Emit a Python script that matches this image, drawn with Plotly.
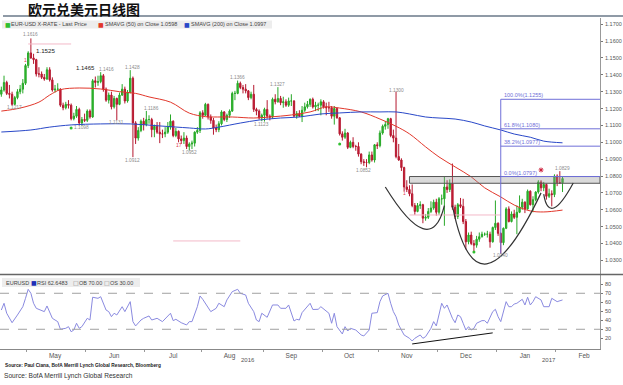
import plotly.graph_objects as go
import pandas as pd

W, H = 623, 385

# ---------------- daily OHLC, EUR-USD ----------------
opens = [
    1.1285, 1.1310, 1.1355, 1.1290, 1.1285, 1.1225, 1.1265, 1.1300, 1.1315, 1.1350,
    1.1455, 1.1530, 1.1500, 1.1490, 1.1405, 1.1405, 1.1385, 1.1375, 1.1430, 1.1370, 1.1310, 1.1315, 1.1315, 1.1220, 1.1205, 1.1225, 1.1220, 1.1140, 1.1155, 1.1195, 1.1115, 1.1135,
    1.1130, 1.1185, 1.1150, 1.1365, 1.1355, 1.1360, 1.1395, 1.1315, 1.1250, 1.1280, 1.1210, 1.1260, 1.1225, 1.1280, 1.1315, 1.1245, 1.1295, 1.1380, 1.1115, 1.1025, 1.1070, 1.1125,
    1.1105, 1.1135, 1.1135, 1.1075, 1.1095, 1.1060, 1.1050, 1.1050, 1.1060, 1.1090, 1.1125, 1.1040, 1.1065, 1.1020, 1.1010, 1.1025, 1.0975, 1.0990, 1.0995, 1.1060, 1.1070,
    1.1175, 1.1160, 1.1225, 1.1150, 1.1130, 1.1085, 1.1075, 1.1110, 1.1180, 1.1135, 1.1160, 1.1185, 1.1290, 1.1290, 1.1350, 1.1325, 1.1315, 1.1305, 1.1265, 1.1285, 1.1195, 1.1185, 1.1145,
    1.1160, 1.1195, 1.1155, 1.1150, 1.1255, 1.1240, 1.1260, 1.1235, 1.1240, 1.1220, 1.1245, 1.1245, 1.1155, 1.1170, 1.1155, 1.1190, 1.1210, 1.1225, 1.1255, 1.1210, 1.1220, 1.1220,
    1.1240, 1.1210, 1.1205, 1.1205, 1.1155, 1.1200, 1.1145, 1.1050, 1.1030, 1.1055, 1.0970, 1.1000, 1.0975, 1.0975, 1.0930, 1.0885, 1.0880, 1.0880, 1.0925, 1.0895, 1.0985,
    1.0980, 1.1055, 1.1095, 1.1105, 1.1140, 1.1040, 1.1025, 1.0915, 1.0895, 1.0850, 1.0735, 1.0720, 1.0695, 1.0625, 1.0590, 1.0625, 1.0630, 1.0550, 1.0555, 1.0590, 1.0610, 1.0645,
    1.0585, 1.0665, 1.0665, 1.0735, 1.0720, 1.0755, 1.0615, 1.0560, 1.0630, 1.0620, 1.0530, 1.0410, 1.0450, 1.0400, 1.0390, 1.0425, 1.0440, 1.0455, 1.0455, 1.0455, 1.0410, 1.0495,
    1.0520, 1.0460, 1.0405, 1.0490, 1.0605, 1.0530, 1.0575, 1.0555, 1.0585, 1.0615, 1.0645, 1.0605, 1.0710, 1.0630, 1.0660, 1.0705, 1.0765, 1.0730, 1.0750, 1.0680, 1.0695, 1.0690,
    1.0800, 1.0760, 1.0760,
]
highs = [
    1.1330, 1.1395, 1.1365, 1.1340, 1.1300, 1.1275, 1.1315, 1.1340, 1.1375, 1.1465,
    1.1540, 1.1616, 1.1525, 1.1495, 1.1445, 1.1420, 1.1405, 1.1445, 1.1445, 1.1385, 1.1340, 1.1350, 1.1320, 1.1235, 1.1240, 1.1250, 1.1230, 1.1175, 1.1215, 1.1205, 1.1150, 1.1170,
    1.1195, 1.1195, 1.1375, 1.1390, 1.1395, 1.1416, 1.1405, 1.1325, 1.1295, 1.1300, 1.1275, 1.1265, 1.1295, 1.1345, 1.1330, 1.1310, 1.1428, 1.1390, 1.1125, 1.1090, 1.1135, 1.1145,
    1.1186, 1.1160, 1.1145, 1.1105, 1.1120, 1.1120, 1.1075, 1.1090, 1.1120, 1.1165, 1.1130, 1.1085, 1.1070, 1.1040, 1.1060, 1.1040, 1.1000, 1.1010, 1.1065, 1.1090, 1.1185,
    1.1190, 1.1234, 1.1230, 1.1165, 1.1145, 1.1105, 1.1125, 1.1190, 1.1185, 1.1170, 1.1195, 1.1300, 1.1305, 1.1366, 1.1360, 1.1340, 1.1345, 1.1310, 1.1300, 1.1340, 1.1205, 1.1195, 1.1170,
    1.1205, 1.1250, 1.1165, 1.1265, 1.1285, 1.1327, 1.1275, 1.1270, 1.1255, 1.1265, 1.1285, 1.1250, 1.1185, 1.1190, 1.1215, 1.1235, 1.1245, 1.1260, 1.1265, 1.1240, 1.1235, 1.1255,
    1.1250, 1.1235, 1.1240, 1.1215, 1.1215, 1.1205, 1.1150, 1.1065, 1.1080, 1.1060, 1.1010, 1.1030, 1.0985, 1.1000, 1.0935, 1.0900, 1.0900, 1.0945, 1.0945, 1.0990, 1.1000,
    1.1070, 1.1105, 1.1125, 1.1145, 1.1145, 1.1075, 1.1300, 1.0990, 1.0905, 1.0855, 1.0775, 1.0745, 1.0750, 1.0640, 1.0640, 1.0650, 1.0635, 1.0575, 1.0610, 1.0650, 1.0660, 1.0665,
    1.0675, 1.0690, 1.0795, 1.0775, 1.0780, 1.0874, 1.0630, 1.0640, 1.0670, 1.0665, 1.0545, 1.0465, 1.0470, 1.0420, 1.0445, 1.0465, 1.0470, 1.0465, 1.0475, 1.0470, 1.0500, 1.0655,
    1.0525, 1.0465, 1.0495, 1.0615, 1.0620, 1.0590, 1.0600, 1.0625, 1.0685, 1.0665, 1.0650, 1.0720, 1.0715, 1.0680, 1.0710, 1.0775, 1.0775, 1.0765, 1.0755, 1.0725, 1.0715, 1.0810,
    1.0810, 1.0829, 1.0800,
]
lows = [
    1.1270, 1.1300, 1.1280, 1.1260, 1.1217, 1.1220, 1.1255, 1.1285, 1.1290, 1.1340,
    1.1440, 1.1495, 1.1465, 1.1390, 1.1385, 1.1375, 1.1365, 1.1370, 1.1360, 1.1300, 1.1295, 1.1305, 1.1210, 1.1190, 1.1195, 1.1200, 1.1130, 1.1130, 1.1145, 1.1100, 1.1098, 1.1120,
    1.1120, 1.1140, 1.1145, 1.1325, 1.1335, 1.1350, 1.1300, 1.1240, 1.1230, 1.1195, 1.1200, 1.1131, 1.1220, 1.1275, 1.1230, 1.1235, 1.1290, 1.0912, 1.0990, 1.1010, 1.1060, 1.1070,
    1.1095, 1.1110, 1.1030, 1.1030, 1.1050, 1.0995, 1.1025, 1.1030, 1.1050, 1.1075, 1.1030, 1.1030, 1.1000, 1.0990, 1.0990, 1.0960, 1.0952, 1.0960, 1.0975, 1.1050, 1.1055,
    1.1140, 1.1155, 1.1135, 1.1110, 1.1045, 1.1060, 1.1060, 1.1100, 1.1125, 1.1120, 1.1145, 1.1180, 1.1250, 1.1285, 1.1315, 1.1290, 1.1290, 1.1250, 1.1255, 1.1180, 1.1160, 1.1135, 1.1125,
    1.1123, 1.1140, 1.1130, 1.1140, 1.1225, 1.1235, 1.1220, 1.1205, 1.1210, 1.1210, 1.1215, 1.1150, 1.1140, 1.1150, 1.1120, 1.1180, 1.1200, 1.1210, 1.1200, 1.1185, 1.1185, 1.1160,
    1.1200, 1.1160, 1.1180, 1.1140, 1.1105, 1.1140, 1.1040, 1.1010, 1.1020, 1.0960, 1.0965, 1.0965, 1.0950, 1.0915, 1.0870, 1.0860, 1.0852, 1.0870, 1.0885, 1.0880, 1.0960,
    1.0970, 1.1045, 1.1075, 1.1080, 1.1030, 1.1000, 1.0905, 1.0890, 1.0830, 1.0710, 1.0705, 1.0680, 1.0615, 1.0570, 1.0585, 1.0605, 1.0520, 1.0535, 1.0545, 1.0580, 1.0600, 1.0565,
    1.0570, 1.0630, 1.0505, 1.0700, 1.0705, 1.0600, 1.0545, 1.0545, 1.0610, 1.0515, 1.0365, 1.0395, 1.0390, 1.0352, 1.0375, 1.0410, 1.0435, 1.0445, 1.0435, 1.0375, 1.0405, 1.0480,
    1.0445, 1.0340, 1.0390, 1.0485, 1.0525, 1.0525, 1.0545, 1.0455, 1.0580, 1.0600, 1.0580, 1.0600, 1.0625, 1.0585, 1.0650, 1.0695, 1.0710, 1.0710, 1.0660, 1.0670, 1.0620, 1.0675,
    1.0740, 1.0755, 1.0705,
]
closes = [
    1.1310, 1.1355, 1.1290, 1.1285, 1.1225, 1.1265, 1.1300, 1.1315, 1.1350, 1.1455,
    1.1530, 1.1500, 1.1490, 1.1405, 1.1405, 1.1385, 1.1375, 1.1430, 1.1370, 1.1310, 1.1315, 1.1315, 1.1220, 1.1205, 1.1225, 1.1220, 1.1140, 1.1155, 1.1195, 1.1115, 1.1135, 1.1130,
    1.1185, 1.1150, 1.1365, 1.1355, 1.1360, 1.1395, 1.1315, 1.1250, 1.1280, 1.1210, 1.1260, 1.1225, 1.1280, 1.1315, 1.1245, 1.1295, 1.1380, 1.1115, 1.1025, 1.1070, 1.1125, 1.1105,
    1.1135, 1.1135, 1.1075, 1.1095, 1.1060, 1.1050, 1.1050, 1.1060, 1.1090, 1.1125, 1.1040, 1.1065, 1.1020, 1.1010, 1.1025, 1.0975, 1.0990, 1.0995, 1.1060, 1.1070, 1.1175,
    1.1160, 1.1225, 1.1150, 1.1130, 1.1085, 1.1075, 1.1110, 1.1180, 1.1135, 1.1160, 1.1185, 1.1290, 1.1290, 1.1350, 1.1325, 1.1315, 1.1305, 1.1265, 1.1285, 1.1195, 1.1185, 1.1145, 1.1160,
    1.1195, 1.1155, 1.1150, 1.1255, 1.1240, 1.1260, 1.1235, 1.1240, 1.1220, 1.1245, 1.1245, 1.1155, 1.1170, 1.1155, 1.1190, 1.1210, 1.1225, 1.1255, 1.1210, 1.1220, 1.1220, 1.1240,
    1.1210, 1.1205, 1.1205, 1.1155, 1.1200, 1.1145, 1.1050, 1.1030, 1.1055, 1.0970, 1.1000, 1.0975, 1.0975, 1.0930, 1.0885, 1.0880, 1.0880, 1.0925, 1.0895, 1.0985, 1.0980,
    1.1055, 1.1095, 1.1105, 1.1140, 1.1040, 1.1025, 1.0915, 1.0895, 1.0850, 1.0735, 1.0720, 1.0695, 1.0625, 1.0590, 1.0625, 1.0630, 1.0550, 1.0555, 1.0590, 1.0610, 1.0645, 1.0585,
    1.0665, 1.0665, 1.0735, 1.0720, 1.0755, 1.0615, 1.0560, 1.0630, 1.0620, 1.0530, 1.0410, 1.0450, 1.0400, 1.0390, 1.0425, 1.0440, 1.0455, 1.0455, 1.0455, 1.0410, 1.0495, 1.0520,
    1.0460, 1.0405, 1.0490, 1.0605, 1.0530, 1.0575, 1.0555, 1.0585, 1.0615, 1.0645, 1.0605, 1.0710, 1.0630, 1.0660, 1.0705, 1.0765, 1.0730, 1.0750, 1.0680, 1.0695, 1.0690, 1.0800,
    1.0760, 1.0760, 1.0785,
]

# moving averages (trading-day number from 18 Apr 2016, value)
sma50_day = [0, 7, 14, 18, 22, 29, 37, 44, 50, 55, 63, 70, 76, 79, 86, 94, 100, 108, 115, 121, 126, 134,
             141, 147, 152, 158, 163, 169, 175, 180, 186, 191, 197, 202, 209]
sma50_val = [1.1185, 1.1203, 1.1238, 1.1280, 1.1312, 1.1322, 1.1316, 1.1300, 1.1290, 1.1269, 1.1238, 1.1173,
             1.1152, 1.1150, 1.1150, 1.1144, 1.1150, 1.1162, 1.1180, 1.1210, 1.1203, 1.1180, 1.1138, 1.1095,
             1.1050, 1.0973, 1.0913, 1.0854, 1.0795, 1.0730, 1.0676, 1.0628, 1.0593, 1.0587, 1.0598]
sma200_day = [0, 11, 18, 26, 37, 48, 59, 70, 76, 81, 89, 96, 104, 111, 119, 126, 134, 141, 147, 152, 158,
              163, 169, 175, 180, 186, 191, 197, 202, 209]
sma200_val = [1.1061, 1.1073, 1.1090, 1.1103, 1.1109, 1.1109, 1.1097, 1.1085, 1.1079, 1.1090, 1.1114, 1.1132,
              1.1144, 1.1150, 1.1168, 1.1174, 1.1180, 1.1180, 1.1180, 1.1168, 1.1150, 1.1144, 1.1138, 1.1120,
              1.1097, 1.1073, 1.1049, 1.1030, 1.1007, 1.0997]

# RSI (trading-day number, value)
rsi_day = [0, 1, 2, 4, 6, 8, 9, 10, 11, 12, 13, 15, 16, 17, 19, 20, 21, 22, 24, 25, 26, 27, 28, 29, 30, 32, 33,
           34, 36, 37, 39, 40, 41, 42, 43, 45, 46, 48, 49, 50, 52, 53, 55, 56, 58, 60, 63, 64, 65, 67, 69, 70,
           71, 73, 74, 75, 77, 78, 80, 81, 83, 84, 86, 88, 89, 91, 92, 94, 95, 96, 97, 99, 101, 103, 104, 106,
           107, 109, 110, 111, 112, 115, 116, 118, 119, 121, 122, 123, 124, 125, 127, 128, 129, 130, 132, 134,
           135, 137, 138, 140, 141, 142, 143, 144, 145, 146, 147, 148, 149, 150, 152, 153, 154, 156, 157, 158,
           160, 161, 162, 163, 164, 165, 166, 168, 169, 170, 171, 172, 173, 174, 175, 176, 177, 179, 180, 181,
           183, 184, 185, 186, 187, 188, 189, 190, 191, 192, 194, 195, 196, 197, 198, 199, 201, 202, 204, 205,
           207, 209]
rsi_val = [51.4, 58.9, 47.8, 37.3, 45.9, 55.1, 64.4, 74.4, 70.0, 58.9, 53.3, 51.4, 49.6, 55.9, 42.2, 40.3, 38.5,
           30.0, 31.1, 32.9, 27.3, 29.2, 36.7, 31.1, 32.9, 42.2, 40.3, 65.6, 64.4, 66.2, 51.4, 49.6, 44.0, 47.8,
           45.9, 55.1, 49.6, 60.7, 38.5, 33.7, 40.3, 42.2, 44.8, 40.3, 42.2, 38.5, 47.8, 39.6, 41.1, 37.3, 34.8,
           38.5, 38.5, 55.1, 67.0, 63.3, 53.3, 49.6, 53.3, 58.9, 55.1, 62.6, 71.8, 74.4, 70.0, 68.1, 58.9, 49.6,
           40.3, 38.5, 47.8, 43.3, 57.0, 57.0, 53.3, 53.3, 57.0, 39.2, 41.1, 40.3, 48.5, 58.9, 52.0, 52.2, 55.1,
           49.6, 47.8, 36.7, 47.8, 32.9, 24.8, 32.9, 28.1, 31.1, 29.2, 23.7, 22.6, 29.2, 47.8, 48.5, 60.7, 67.0,
           68.1, 70.0, 58.9, 49.6, 44.0, 34.8, 29.2, 23.7, 20.0, 17.0, 20.0, 23.7, 20.0, 21.8, 31.1, 38.5, 33.7,
           45.9, 58.9, 53.3, 57.0, 42.2, 37.3, 45.9, 44.0, 36.7, 29.2, 32.9, 29.2, 31.1, 36.7, 39.6, 39.6, 36.7,
           49.6, 52.2, 44.0, 38.5, 51.4, 60.7, 55.1, 55.1, 58.1, 58.9, 63.3, 57.0, 65.6, 57.0, 60.7, 66.2, 62.6,
           55.1, 55.1, 64.4, 60.7, 62.6]

# labels of highs / lows
lab_text = ["1.1616", "1.1217", "1.1098", "1.1416", "1.1131", "1.1428", "1.0912", "1.1186", "1.0952",
            "1.1366", "1.1123", "1.1327", "1.0852", "1.1300", "1.0340", "1.0829"]
lab_day = [11, 5, 30, 39, 43, 49, 49, 56, 70, 88, 97, 103, 135, 147, 186, 209]
lab_price = [1.1637, 1.1204, 1.1085, 1.1429, 1.1115, 1.1441, 1.0895, 1.1198, 1.0937, 1.1382, 1.1103,
             1.1340, 1.0830, 1.1310, 1.0326, 1.0842]

fib_text = ["100.0%(1.1255)", "61.8%(1.1080)", "38.2%(1.0977)", "0.0%(1.0797)"]
fib_level = [1.1255, 1.1080, 1.0977, 1.0797]
fib_low = 1.0340
band = [1.0757, 1.0797]

months = ["May", "Jun", "Jul", "Aug", "Sep", "Oct", "Nov", "Dec", "Jan", "Feb"]
month_mid = ["2016-05-16", "2016-06-15", "2016-07-15", "2016-08-15", "2016-09-15", "2016-10-14 12:00",
             "2016-11-15", "2016-12-15", "2017-01-16", "2017-02-15"]
month_edge = ["2016-04-29 12:00", "2016-05-31 12:00", "2016-06-30 12:00", "2016-07-29 12:00",
              "2016-08-31 12:00", "2016-09-30 12:00", "2016-10-31 12:00", "2016-11-30 12:00",
              "2016-12-30 12:00", "2017-01-31 12:00"]
price_ticks = [1.03, 1.04, 1.05, 1.06, 1.07, 1.08, 1.09, 1.10, 1.11, 1.12, 1.13, 1.14, 1.15, 1.16, 1.17]
rsi_ticks = [20, 30, 40, 50, 60, 70, 80]

n = min(len(opens), len(highs), len(lows), len(closes))
dates = pd.bdate_range("2016-04-18", periods=n)
XR = ["2016-04-15 12:00", "2017-02-22 23:00"]
RB = [dict(bounds=["sat", "mon"])]

GREEN, RED, BLUE = "#2FBF2F", "#CC1F3A", "#2948C8"
FIB = "#6F6FD8"
PINK = "#F3B9C8"
FONT = "Liberation Sans, Arial, sans-serif"

def d(i):
    return dates[i]

fig = go.Figure()
fig.add_trace(go.Candlestick(
    x=dates, open=opens[:n], high=highs[:n], low=lows[:n], close=closes[:n],
    increasing=dict(line=dict(color="#28A828", width=1), fillcolor=GREEN),
    decreasing=dict(line=dict(color="#B5182F", width=1), fillcolor=RED),
    xaxis="x", yaxis="y", hoverinfo="skip", showlegend=False))
fig.add_trace(go.Scatter(x=[d(i) for i in sma50_day], y=sma50_val, mode="lines",
                         line=dict(color="#E2372B", width=1, shape="spline"), xaxis="x", yaxis="y"))
fig.add_trace(go.Scatter(x=[d(i) for i in sma200_day], y=sma200_val, mode="lines",
                         line=dict(color=BLUE, width=1, shape="spline"), xaxis="x", yaxis="y"))

# small markers
fig.add_trace(go.Scatter(x=[d(26), d(126), d(176)], y=[1.1085, 1.0990, 1.0350], mode="markers",
                         marker=dict(color=GREEN, size=3, symbol="circle"), xaxis="x", yaxis="y"))
fig.add_trace(go.Scatter(x=[d(201)], y=[1.0836], mode="markers",
                         marker=dict(color=RED, size=4, symbol="asterisk-open", line=dict(color=RED, width=1)),
                         xaxis="x", yaxis="y"))

fig.add_trace(go.Scatter(x=[d(i) for i in rsi_day], y=rsi_val, mode="lines",
                         line=dict(color="#8A8AE0", width=1), xaxis="x2", yaxis="y2"))

shapes = []
shapes.append(dict(type="line", xref="paper", yref="paper", x0=3 / W, x1=1, y0=1 - 16 / H, y1=1 - 16 / H,
                   line=dict(color="#6A7888", width=1.5)))
shapes.append(dict(type="line", xref="paper", yref="paper", x0=0, x1=1, y0=1 - 274.5 / H, y1=1 - 274.5 / H,
                   line=dict(color="#666", width=1.5)))
shapes.append(dict(type="rect", xref="paper", yref="paper", x0=2 / W, x1=272 / W, y0=1 - 28.5 / H,
                   y1=1 - 20.5 / H, fillcolor="#EDEDED", line=dict(width=0), layer="below"))
shapes.append(dict(type="rect", xref="paper", yref="paper", x0=2 / W, x1=140 / W, y0=1 - 287 / H,
                   y1=1 - 278 / H, fillcolor="#EDEDED", line=dict(width=0), layer="below"))
shapes.append(dict(type="line", xref="x", yref="y", x0=d(10), x1=d(26), y0=1.1583, y1=1.1583,
                   line=dict(color=PINK, width=1)))
shapes.append(dict(type="line", xref="x", yref="y", x0=d(64), x1=d(89), y0=1.0415, y1=1.0415,
                   line=dict(color=PINK, width=1)))
shapes.append(dict(type="line", xref="x", yref="y", x0=d(152), x1=d(186), y0=1.0569, y1=1.0569,
                   line=dict(color=PINK, width=1)))
shapes.append(dict(type="rect", xref="x", yref="y", x0=d(152), x1=XR[1], y0=band[0], y1=band[1],
                   fillcolor="rgba(150,150,150,0.35)", line=dict(color="#555", width=1)))
shapes.append(dict(type="line", xref="x", yref="y", x0=d(186), x1=d(186), y0=fib_low, y1=fib_level[0],
                   line=dict(color=FIB, width=1)))
for lv in fib_level:
    shapes.append(dict(type="line", xref="x", yref="y", x0=d(186), x1=XR[1], y0=lv, y1=lv,
                       line=dict(color=FIB, width=1)))
arc = dict(color="#333", width=1.2)
shapes.append(dict(type="path", xref="x", yref="y",
                   path="M 2016-11-03 1.0735 Q 2016-11-28 1.0296 2016-12-05 1.0625", line=arc))
shapes.append(dict(type="path", xref="x", yref="y",
                   path="M 2016-12-08 1.0624 Q 2016-12-21 0.9896 2017-01-24 1.0700", line=arc))
shapes.append(dict(type="path", xref="x", yref="y",
                   path="M 2017-01-25 1.0693 Q 2017-01-27 1.0495 2017-02-09 1.0759", line=arc))
for lv in (70, 30):
    shapes.append(dict(type="line", xref="x2 domain", yref="y2", x0=0, x1=1, y0=lv, y1=lv,
                       line=dict(color="#A0A0A0", width=1, dash="dash")))
shapes.append(dict(type="line", xref="x2", yref="y2", x0=d(153), x1=d(183), y0=13.7, y1=26,
                   line=dict(color="#111", width=1)))

ann = []
ann.append(dict(xref="paper", yref="paper", x=26 / W, y=1 - 9 / H, xanchor="left", yanchor="middle",
                text="<b>欧元兑美元日线图</b>", showarrow=False,
                font=dict(family="Noto Sans CJK SC", size=14, color="#111")))

def ptext(x, y, t, size=5.5, color="#444", fam=FONT):
    ann.append(dict(xref="paper", yref="paper", x=x / W, y=1 - y / H, xanchor="left", yanchor="middle",
                    text=t, showarrow=False, font=dict(family=fam, size=size, color=color)))

ptext(3, 24.5, "■", 6, GREEN, "DejaVu Sans")
ptext(9, 24.5, "EUR-USD X-RATE - Last Price", 5.5)
ptext(96, 24.5, "■", 6, "#E2372B", "DejaVu Sans")
ptext(103, 24.5, "SMAVG (50) on Close 1.0598", 5.5)
ptext(182, 24.5, "■", 6, BLUE, "DejaVu Sans")
ptext(189, 24.5, "SMAVG (200) on Close 1.0997", 5.5)

ptext(4, 282.5, "EURUSD", 5.5)
ptext(29, 282.5, "■", 6, "#1E2FB8", "DejaVu Sans")
ptext(35, 282.5, "RSI 62.6483", 5.5)
ptext(71, 282.5, "□", 6, "#888", "DejaVu Sans")
ptext(77, 282.5, "OB 70.00", 5.5)
ptext(102, 282.5, "□", 6, "#888", "DejaVu Sans")
ptext(108, 282.5, "OS 30.00", 5.5)

ptext(3, 365.5, "<b>Source: Paul Ciana, BofA Merrill Lynch Global Research, Bloomberg</b>", 4.8, "#222")
ptext(2, 376, "Source: BofA Merrill Lynch Global Research", 6.6, "#333")

# right-hand tick labels (placed just right of the axis line)
for v in price_ticks:
    ann.append(dict(xref="paper", yref="y", x=603 / W, y=v, xanchor="left", yanchor="middle",
                    text=f"{v:.4f}", showarrow=False, font=dict(family=FONT, size=5.5, color="#555")))
for v in rsi_ticks:
    ann.append(dict(xref="paper", yref="y2", x=603 / W, y=v, xanchor="left", yanchor="middle",
                    text=str(v), showarrow=False, font=dict(family=FONT, size=5.5, color="#555")))

for t, i, p in zip(lab_text, lab_day, lab_price):
    ann.append(dict(xref="x", yref="y", x=d(i), y=p, text=t, showarrow=False,
                    font=dict(family=FONT, size=4.8, color="#8C8C8C")))
ann.append(dict(xref="x", yref="y", x=d(12), y=1.1542, text="1.1525", xanchor="left", showarrow=False,
                font=dict(family=FONT, size=6.2, color="#222")))
ann.append(dict(xref="x", yref="y", x=d(27), y=1.1441, text="1.1465", xanchor="left", showarrow=False,
                font=dict(family=FONT, size=6.0, color="#222")))
for t, i, p in [("1", 9, 1.1488), ("17", 66, 1.0985), ("1", 150, 1.0700)]:
    ann.append(dict(xref="x", yref="y", x=d(i), y=p, text=t, showarrow=False,
                    font=dict(family=FONT, size=5, color="#E04050")))
for t, lv in zip(fib_text, fib_level):
    ann.append(dict(xref="x", yref="y", x=d(186), y=lv, text=t, xanchor="left", yanchor="bottom",
                    xshift=1, yshift=-1, showarrow=False, font=dict(family=FONT, size=5.5, color=FIB)))
for t, i in [("2016", 92), ("2017", 204)]:
    ann.append(dict(xref="x2", yref="paper", x=d(i), y=1 - 360 / H, yanchor="middle", text=t,
                    showarrow=False, font=dict(family=FONT, size=6, color="#555")))

fig.update_layout(
    width=W, height=H, margin=dict(l=0, r=0, t=0, b=0, autoexpand=False),
    paper_bgcolor="white", plot_bgcolor="white", showlegend=False,
    font=dict(family=FONT, size=6, color="#555"),
    xaxis=dict(domain=[0, 600 / W], anchor="y", range=XR, rangebreaks=RB, showticklabels=False,
               showgrid=False, zeroline=False, showline=False, ticks="", rangeslider=dict(visible=False)),
    xaxis2=dict(domain=[0, 600 / W], anchor="y2", range=XR, rangebreaks=RB, matches="x",
                tickmode="array", tickvals=month_mid, ticktext=months, ticks="", showgrid=False,
                zeroline=False, showline=True, linecolor="#888", linewidth=1,
                tickfont=dict(family=FONT, size=6.5, color="#555"),
                minor=dict(tickmode="array", tickvals=month_edge, ticks="outside", ticklen=2,
                           tickcolor="#999", showgrid=False)),
    yaxis=dict(domain=[1 - 274 / H, 1 - 18 / H], anchor="x", side="right", range=[1.0219, 1.1737],
               tickmode="array", tickvals=price_ticks, showticklabels=False,
               ticks="outside", ticklen=2, tickcolor="#777", showline=True, linecolor="#999",
               showgrid=False, zeroline=False),
    yaxis2=dict(domain=[1 - 349 / H, 1 - 275 / H], anchor="x2", side="right", range=[8.1, 90.3],
                tickmode="array", tickvals=rsi_ticks, showticklabels=False,
                ticks="outside", ticklen=2, tickcolor="#777", showline=True, linecolor="#999",
                showgrid=False, zeroline=False),
    shapes=shapes, annotations=ann,
)

fig.write_html("out.html", config={"displayModeBar": False},
               post_script="document.body.style.margin='0px';document.body.style.padding='0px';")
